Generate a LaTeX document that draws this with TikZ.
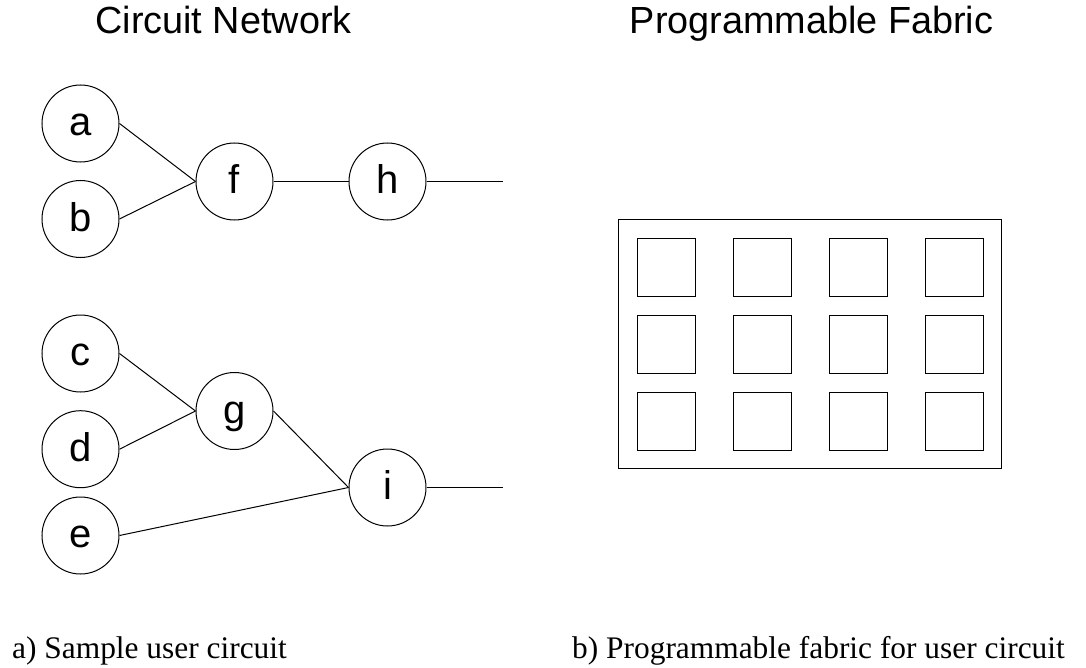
\documentclass[tikz,border=0pt]{standalone}
\usepackage{fontspec}
\setmainfont{Liberation Serif}
\setsansfont{Liberation Sans}
\begin{document}
\begin{tikzpicture}[x=1bp,y=-1bp,
  gate/.style={circle,draw,line width=1bp,minimum size=77bp,inner sep=0pt,
    text height=24bp,text depth=0pt,font=\sffamily\fontsize{40bp}{42bp}\selectfont},
  wire/.style={line width=1bp},
  title/.style={anchor=base,inner sep=0pt,font=\sffamily\fontsize{37.8bp}{40bp}\selectfont},
  caption/.style={inner sep=0pt,font=\rmfamily\fontsize{31.4bp}{34bp}\selectfont},
  frame/.style={draw,line width=1bp},
  cell/.style={draw,line width=1bp,minimum width=58bp,minimum height=57.5bp,inner sep=0pt,anchor=north west}]
\useasboundingbox (0,0) rectangle (1086,668);

% titles
\node[title] (tnet) at (223.5,33.3) {Circuit Network};
\node[title] (tfab) at (811.5,33.3) {Programmable Fabric};

% upper network
\node[gate] (a) at (80.5,123.5) {a};
\node[gate] (b) at (80.5,219) {b};
\node[gate] (f) at (234.5,181.5) {f};
\node[gate] (h) at (387.5,181.5) {h};
\coordinate (hout) at (503,181.5);

% lower network
\node[gate] (c) at (80.5,353.5) {c};
\node[gate] (d) at (80.5,449.2) {d};
\node[gate] (e) at (80.5,535.5) {e};
\node[gate] (g) at (234.5,411) {g};
\node[gate] (i) at (387.5,487.5) {i};
\coordinate (iout) at (503,487.5);

\draw[wire] (a.east) -- (f.west);
\draw[wire] (b.east) -- (f.west);
\draw[wire] (f.east) -- (h.west);
\draw[wire] (h.east) -- (hout);
\draw[wire] (c.east) -- (g.west);
\draw[wire] (d.east) -- (g.west);
\draw[wire] (g.east) -- (i.west);
\draw[wire] (e.east) -- (i.west);
\draw[wire] (i.east) -- (iout);

% programmable fabric
\node[frame,minimum width=383.3bp,minimum height=249bp,inner sep=0pt,anchor=north west] (fabric) at (617.7,219) {};
\foreach \cx [count=\ci] in {636.7,733,828.7,924.7}
  \foreach \cy [count=\cj] in {238,315,392}
    \node[cell] (cell\ci\cj) at (\cx,\cy) {};

% captions
\node[caption,anchor=base west] (capa) at (12,658) {a) Sample user circuit};
\node[caption,anchor=base east] (capb) at (1065,658) {b) Programmable fabric for user circuit};
\end{tikzpicture}
\end{document}
